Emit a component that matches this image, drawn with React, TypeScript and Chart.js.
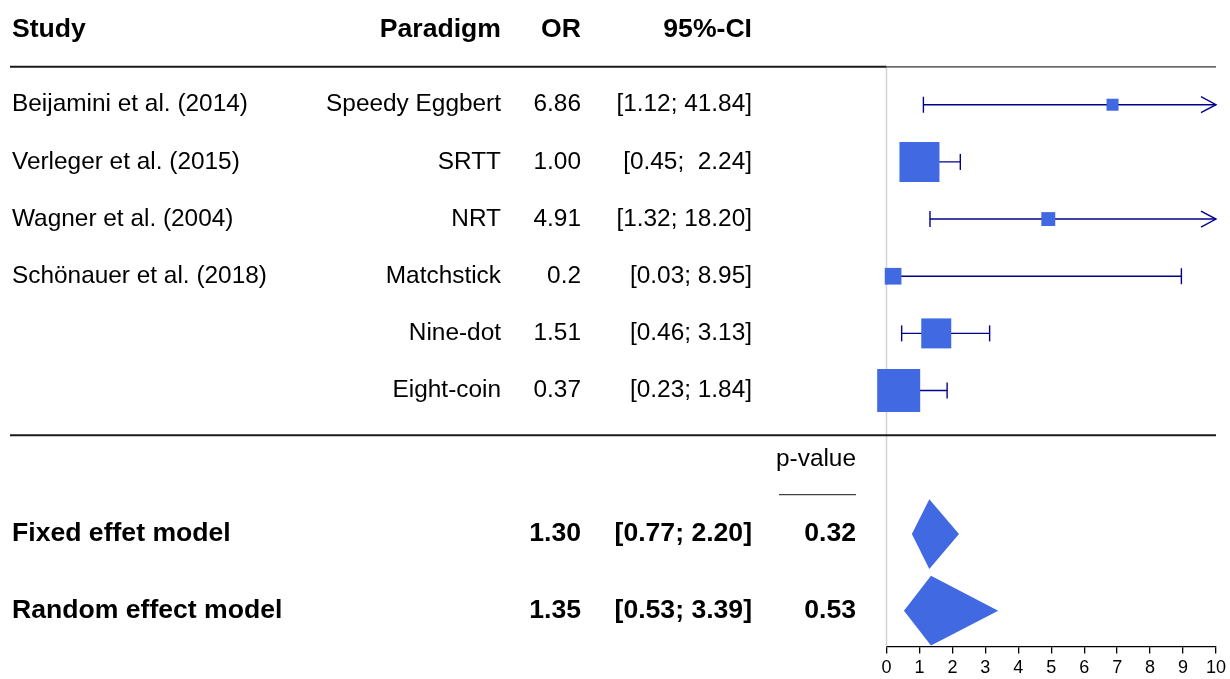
import React, { useEffect, useRef } from 'react';
import { Chart, registerables } from 'chart.js';

Chart.register(...registerables);

// ---------- data ----------
const studies = ['Beijamini et al. (2014)', 'Verleger et al. (2015)', 'Wagner et al. (2004)', 'Schönauer et al. (2018)', '', ''];
const paradigms = ['Speedy Eggbert', 'SRTT', 'NRT', 'Matchstick', 'Nine-dot', 'Eight-coin'];
const orValues = [6.86, 1.0, 4.91, 0.2, 1.51, 0.37];
const orLabels = ['6.86', '1.00', '4.91', '0.2', '1.51', '0.37'];
const ciLower = [1.12, 0.45, 1.32, 0.03, 0.46, 0.23];
const ciUpper = [41.84, 2.24, 18.2, 8.95, 3.13, 1.84];
const ciLabels = ['[1.12; 41.84]', '[0.45;  2.24]', '[1.32; 18.20]', '[0.03; 8.95]', '[0.46; 3.13]', '[0.23; 1.84]'];
const weights = [2.9, 32.2, 3.9, 5.6, 18.1, 37.2];

const modelNames = ['Fixed effet model', 'Random effect model'];
const modelOR = [1.3, 1.35];
const modelORLabels = ['1.30', '1.35'];
const modelLower = [0.77, 0.53];
const modelUpper = [2.2, 3.39];
const modelCILabels = ['[0.77; 2.20]', '[0.53; 3.39]'];
const modelPValues = ['0.32', '0.53'];

const headers = ['Study', 'Paradigm', 'OR', '95%-CI'];
const pValueHeader = 'p-value';
const xMin = 0;
const xMax = 10;

// ---------- layout (row units on the hidden y scale) ----------
const studyRows = [1, 2, 3, 4, 5, 6];
const modelRows = [8.51, 9.85];
const headerRow = -0.31;
const topRuleRow = 0.337;
const midRuleRow = 6.78;
const pHeaderRow = 7.21;
const pRuleRow = 7.82;
const yTop = -0.832;
const yBottom = 10.475;

const FONT = "'Liberation Sans', Arial, Helvetica, sans-serif";
const SQUARE = '#4169E1';
const LINE = '#00008B';

const forestPlugin = {
  id: 'forest',
  beforeDatasetsDraw(chart: any) {
    const { ctx, scales, chartArea } = chart;
    const xs = scales.x;
    const ys = scales.y;
    const rowSpacing = Math.abs(ys.getPixelForValue(2) - ys.getPixelForValue(1));
    ctx.save();
    // reference line at 0
    ctx.strokeStyle = '#D3D3D3';
    ctx.lineWidth = 1.5;
    ctx.beginPath();
    ctx.moveTo(xs.getPixelForValue(0), ys.getPixelForValue(topRuleRow));
    ctx.lineTo(xs.getPixelForValue(0), chartArea.bottom);
    ctx.stroke();

    // confidence intervals
    ctx.strokeStyle = LINE;
    ctx.lineWidth = 1.4;
    const tick = 8;
    for (let i = 0; i < orValues.length; i++) {
      const y = ys.getPixelForValue(studyRows[i]);
      const lo = Math.max(ciLower[i], xMin);
      const hi = Math.min(ciUpper[i], xMax);
      const x1 = xs.getPixelForValue(lo);
      const x2 = xs.getPixelForValue(hi);
      ctx.beginPath();
      ctx.moveTo(x1, y);
      ctx.lineTo(x2, y);
      ctx.stroke();
      ctx.beginPath();
      if (ciLower[i] < xMin) {
        ctx.moveTo(x1 + 15, y - tick);
        ctx.lineTo(x1, y);
        ctx.lineTo(x1 + 15, y + tick);
      } else {
        ctx.moveTo(x1, y - tick);
        ctx.lineTo(x1, y + tick);
      }
      ctx.stroke();
      ctx.beginPath();
      if (ciUpper[i] > xMax) {
        ctx.moveTo(x2 - 15, y - tick);
        ctx.lineTo(x2, y);
        ctx.lineTo(x2 - 15, y + tick);
      } else {
        ctx.moveTo(x2, y - tick);
        ctx.lineTo(x2, y + tick);
      }
      ctx.stroke();
    }

    // diamonds
    ctx.fillStyle = SQUARE;
    for (let i = 0; i < modelOR.length; i++) {
      const y = ys.getPixelForValue(modelRows[i]);
      const h = rowSpacing * 0.61;
      ctx.beginPath();
      ctx.moveTo(xs.getPixelForValue(modelLower[i]), y);
      ctx.lineTo(xs.getPixelForValue(modelOR[i]), y - h);
      ctx.lineTo(xs.getPixelForValue(modelUpper[i]), y);
      ctx.lineTo(xs.getPixelForValue(modelOR[i]), y + h);
      ctx.closePath();
      ctx.fill();
    }
    ctx.restore();
  },
  afterDraw(chart: any) {
    const { ctx, scales, chartArea } = chart;
    const ys = scales.y;
    ctx.save();
    // rules
    const yTopRule = ys.getPixelForValue(topRuleRow);
    ctx.strokeStyle = '#1a1a1a';
    ctx.lineWidth = 2;
    ctx.beginPath();
    ctx.moveTo(10, yTopRule);
    ctx.lineTo(chartArea.left, yTopRule);
    ctx.stroke();
    ctx.strokeStyle = '#333';
    ctx.lineWidth = 1.3;
    ctx.beginPath();
    ctx.moveTo(chartArea.left, yTopRule);
    ctx.lineTo(chartArea.right, yTopRule);
    ctx.stroke();

    const yMid = ys.getPixelForValue(midRuleRow);
    ctx.strokeStyle = '#1a1a1a';
    ctx.lineWidth = 2;
    ctx.beginPath();
    ctx.moveTo(10, yMid);
    ctx.lineTo(chartArea.right, yMid);
    ctx.stroke();

    const yP = ys.getPixelForValue(pRuleRow);
    ctx.strokeStyle = '#444';
    ctx.lineWidth = 1.3;
    ctx.beginPath();
    ctx.moveTo(779, yP);
    ctx.lineTo(856, yP);
    ctx.stroke();

    // text
    ctx.fillStyle = '#000';
    ctx.textBaseline = 'middle';
    const bold = `bold 26.6px ${FONT}`;
    const reg = `24.4px ${FONT}`;
    const colStudy = 12;
    const colParadigm = 501;
    const colOR = 581;
    const colCI = 752;
    const colP = 856;

    const yh = ys.getPixelForValue(headerRow);
    ctx.font = bold;
    ctx.textAlign = 'left';
    ctx.fillText(headers[0], colStudy, yh);
    ctx.textAlign = 'right';
    ctx.fillText(headers[1], colParadigm, yh);
    ctx.fillText(headers[2], colOR, yh);
    ctx.fillText(headers[3], colCI, yh);

    ctx.font = reg;
    for (let i = 0; i < studies.length; i++) {
      const y = ys.getPixelForValue(studyRows[i]);
      ctx.textAlign = 'left';
      ctx.fillText(studies[i], colStudy, y);
      ctx.textAlign = 'right';
      ctx.fillText(paradigms[i], colParadigm, y);
      ctx.fillText(orLabels[i], colOR, y);
      ctx.fillText(ciLabels[i], colCI, y);
    }

    ctx.font = reg;
    ctx.textAlign = 'right';
    ctx.fillText(pValueHeader, colP, ys.getPixelForValue(pHeaderRow));

    ctx.font = bold;
    for (let i = 0; i < modelNames.length; i++) {
      const y = ys.getPixelForValue(modelRows[i]);
      ctx.textAlign = 'left';
      ctx.fillText(modelNames[i], colStudy, y);
      ctx.textAlign = 'right';
      ctx.fillText(modelORLabels[i], colOR, y);
      ctx.fillText(modelCILabels[i], colCI, y);
      ctx.fillText(modelPValues[i], colP, y);
    }
    ctx.restore();
  },
};

export default function App() {
  const canvasRef = useRef<HTMLCanvasElement | null>(null);

  useEffect(() => {
    document.body.style.margin = '0';
    const canvas = canvasRef.current;
    if (!canvas) return;
    const chart = new Chart(canvas, {
      type: 'scatter',
      data: {
        datasets: [
          {
            label: 'OR',
            data: orValues.map((v, i) => ({ x: v, y: studyRows[i] })),
            pointStyle: 'rect',
            pointRadius: (ctx: any) => (7.05 * Math.sqrt(weights[ctx.dataIndex] ?? 1)) / (2 * Math.SQRT1_2),
            pointHoverRadius: (ctx: any) => (7.05 * Math.sqrt(weights[ctx.dataIndex] ?? 1)) / (2 * Math.SQRT1_2),
            backgroundColor: SQUARE,
            borderWidth: 0,
            hoverBorderWidth: 0,
            clip: false as any,
          },
        ],
      },
      options: {
        animation: false,
        responsive: false,
        events: [],
        layout: { autoPadding: false, padding: { left: 886.5, right: 11, top: 0, bottom: -4 } },
        plugins: { legend: { display: false }, tooltip: { enabled: false } },
        scales: {
          x: {
            type: 'linear',
            min: xMin,
            max: xMax,
            ticks: { stepSize: 1, color: '#000', font: { size: 18, family: FONT }, padding: 4, maxRotation: 0 },
            grid: { drawOnChartArea: false, drawTicks: true, tickLength: 7, color: '#000', lineWidth: 1.3 },
            border: { display: true, color: '#000', width: 1.3 },
          },
          y: {
            type: 'linear',
            display: false,
            reverse: true,
            min: yTop,
            max: yBottom,
          },
        },
      },
      plugins: [forestPlugin],
    });
    return () => chart.destroy();
  }, []);

  return (
    <div style={{ width: 1230, height: 679 }}>
      <canvas ref={canvasRef} width={1230} height={679} style={{ display: 'block' }} />
    </div>
  );
}
